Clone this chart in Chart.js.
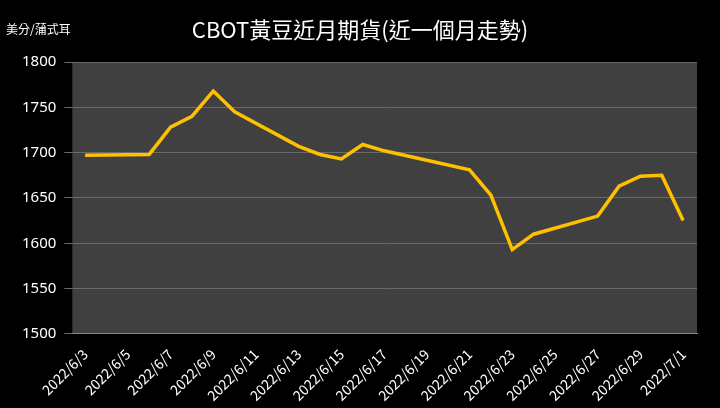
<!DOCTYPE html>
<html>
<head>
<meta charset="utf-8">
<script src="https://cdn.jsdelivr.net/npm/chart.js@4"></script>
<style>
html,body{margin:0;padding:0;background:#000;}
#wrap{position:relative;width:720px;height:408px;}
</style>
</head>
<body>
<div id="wrap"><canvas id="c" width="720" height="408"></canvas></div>
<script>
// 交易日（以 6/3 為第 0 天）與收盤價
const dayIndex = [0, 3, 4, 5, 6, 7, 10, 11, 12, 13, 14, 18, 19, 20, 21, 24, 25, 26, 27, 28];
const prices = [1697, 1698, 1728, 1740, 1768, 1745, 1707, 1698, 1693, 1709, 1702, 1681, 1653, 1593, 1610, 1630, 1663, 1674, 1675, 1625];
const yTicks = [1500, 1550, 1600, 1650, 1700, 1750, 1800];

function dayLabel(v) {
    const d = new Date(2022, 5, 3 + v);
    return d.getFullYear() + '/' + (d.getMonth() + 1) + '/' + d.getDate();
}

const plotBg = {
    id: 'plotBg',
    beforeDraw(chart) {
        const a = chart.chartArea, ctx = chart.ctx;
        ctx.save();
        ctx.fillStyle = '#000';
        ctx.fillRect(0, 0, chart.width, chart.height);
        ctx.fillStyle = '#404040';
        ctx.fillRect(a.left, a.top, a.right - a.left, a.bottom - a.top);
        ctx.restore();
    }
};

new Chart(document.getElementById('c'), {
    type: 'line',
    data: {
        datasets: [{
            data: dayIndex.map((x, i) => ({ x: x, y: prices[i] })),
            borderColor: '#ffc000',
            borderWidth: 3.5,
            pointRadius: 0,
            tension: 0,
            fill: false
        }]
    },
    options: {
        responsive: false,
        animation: false,
        layout: { padding: { top: 62, right: 23, left: 14, bottom: 0 } },
        plugins: {
            legend: { display: false },
            tooltip: { enabled: false }
        },
        scales: {
            x: {
                type: 'linear',
                min: -0.6,
                max: 28.65,
                afterBuildTicks(axis) {
                    const t = [];
                    for (let v = 0; v <= 28; v += 2) t.push({ value: v });
                    axis.ticks = t;
                },
                grid: { display: false },
                border: { color: '#888' },
                ticks: {
                    color: '#fff',
                    font: { family: "'Noto Sans CJK TC', 'Noto Sans'", size: 14 },
                    maxRotation: 45,
                    minRotation: 45,
                    autoSkip: false,
                    padding: 4,
                    callback: v => dayLabel(v)
                }
            },
            y: {
                min: 1500,
                max: 1800,
                afterBuildTicks(axis) {
                    axis.ticks = yTicks.map(v => ({ value: v }));
                },
                grid: { color: '#6a6a6a', lineWidth: 1 },
                border: { display: false },
                ticks: {
                    color: '#fff',
                    font: { family: "'Noto Sans'", size: 15 },
                    padding: 8,
                    callback: v => String(v)
                }
            }
        }
    },
    plugins: [plotBg, {
        id: 'titles',
        afterDraw(chart) {
            const ctx = chart.ctx;
            ctx.save();
            ctx.fillStyle = '#fff';
            ctx.textBaseline = 'middle';
            ctx.font = "22px 'Noto Sans CJK TC'";
            ctx.textAlign = 'center';
            ctx.fillText('CBOT黃豆近月期貨(近一個月走勢)', 360, 30);
            ctx.font = "12px 'Noto Sans CJK TC'";
            ctx.textAlign = 'left';
            ctx.fillText('美分/蒲式耳', 6, 29);
            ctx.restore();
        }
    }]
});
</script>
</body>
</html>
